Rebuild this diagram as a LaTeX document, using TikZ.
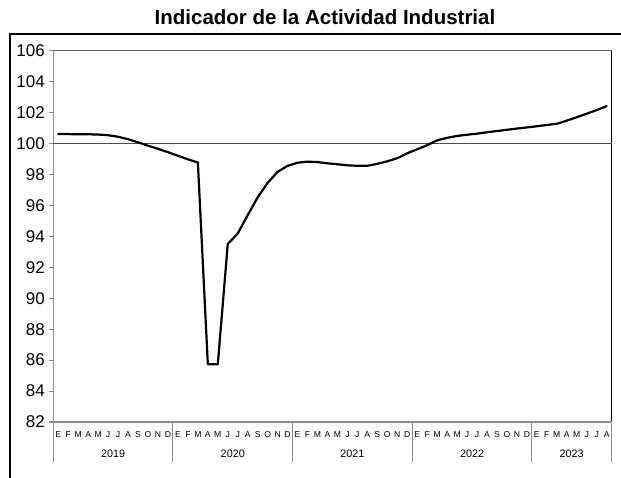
\documentclass[tikz,border=0pt]{standalone}
\usepackage{fontspec}
\setmainfont{Liberation Sans}
\tikzset{
  ejes/.style={draw=black!45, line width=1.1pt},
  serie/.style={line width=2.2pt, line join=round, line cap=round},
  etiq/.style={font=\fontsize{17}{19}\selectfont, anchor=east, inner sep=0pt},
  mes/.style={font=\fontsize{8.6}{10}\selectfont, inner sep=0pt, text height=6.2pt, text depth=0pt},
  anio/.style={font=\fontsize{10.8}{12}\selectfont, inner sep=0pt},
}
\begin{document}
\begin{tikzpicture}
	\useasboundingbox (0,0) rectangle (621pt,477pt);
	\begin{scope}[shift={(53.3pt,-1212.7pt)}, x=9.97pt, y=15.46pt]
			% marco y titulo
			\draw[line width=1.8pt] (-4.34,78.3) -- (-4.34,107.1) -- (57,107.1);
			\node[font=\bfseries\fontsize{20.5}{24}\selectfont] (titulo) at (27.25,108.2) {Indicador de la Actividad Industrial};
			%
			\draw[draw=black!60, line width=0.9pt] (0,106) -- (56,106);
			\draw[line width=1.5pt] (56,106) -- (56,82);
			\foreach \v in {82,84,...,106} {
				\draw[ejes] (-0.43,\v) -- (0,\v);
				\node[etiq] (y\v) at (-0.83,\v) {\v};
			}
			\draw[ejes] (0,106) -- (0,79.41);
			\draw[ejes] (0,82) -- (56,82);
			\foreach \x in {12,24,36,48,56}
				\draw[ejes] (\x,82) -- (\x,79.41);
			% meses y anios
			\foreach \m [count=\i from 0] in {E,F,M,A,M,J,J,A,S,O,N,D,E,F,M,A,M,J,J,A,S,O,N,D,E,F,M,A,M,J,J,A,S,O,N,D,E,F,M,A,M,J,J,A,S,O,N,D,E,F,M,A,M,J,J,A}
				\node[mes] (m\i) at (\i+0.5,81.22) {\m};
			\node[anio] (a2019) at (6,79.95) {2019};
			\node[anio] (a2020) at (18,79.95) {2020};
			\node[anio] (a2021) at (30,79.95) {2021};
			\node[anio] (a2022) at (42,79.95) {2022};
			\node[anio] (a2023) at (52,79.95) {2023};
			%
			\draw[draw=black!70, line width=1pt] (0,100) -- (56,100);
			\draw[serie] (0.5,100.63) \foreach \v [count=\i] in {100.62,100.61,100.61,100.59,100.55,100.45,100.29,100.09,99.87,99.67,99.45,
				99.22,98.99,98.78,85.74,85.74,93.52,94.19,95.38,96.53,97.47,98.18,98.57,
				98.77,98.84,98.81,98.73,98.67,98.60,98.57,98.57,98.70,98.86,99.06,99.38,
				99.64,99.90,100.22,100.38,100.50,100.58,100.65,100.74,100.82,100.90,100.98,101.05,
				101.13,101.21,101.29,101.49,101.71,101.94,102.17,102.43} { -- (\i+0.5,\v) };
	\end{scope}
\end{tikzpicture}
\end{document}
